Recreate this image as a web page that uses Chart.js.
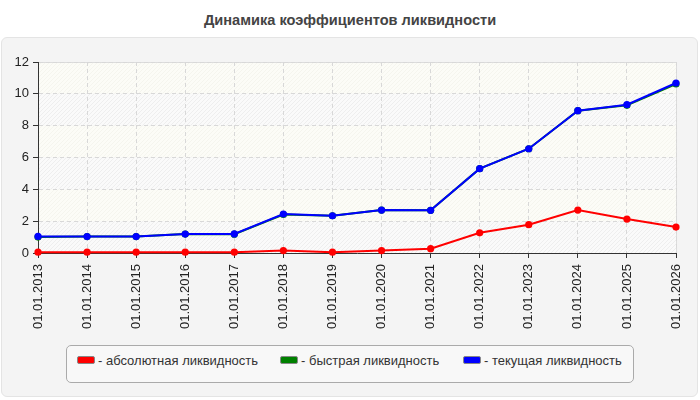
<!DOCTYPE html>
<html>
<head>
<meta charset="utf-8">
<script src="https://cdn.jsdelivr.net/npm/chart.js@4.4.1/dist/chart.umd.min.js"></script>
<style>
  body { margin: 0; background: #fff; font-family: Arial, "Liberation Sans", sans-serif; }
  .wrap { position: relative; width: 700px; height: 400px; overflow: hidden; }
  .title { position: absolute; left: 0; top: 12px; width: 700px; text-align: center;
    font-size: 14.6px; font-weight: bold; color: #444; }
  .panel { position: absolute; left: 1px; top: 37px; width: 695px; height: 358px;
    background: #f4f4f4; border: 1px solid #e4e4e4; border-radius: 6px; }
  canvas { position: absolute; left: 0; top: 0; }
  .legend { position: absolute; left: 66px; top: 345px; width: 566px; height: 36px;
    background: #f8f8f8; border: 1px solid #aaa; border-radius: 5px; }
  .item { position: absolute; top: 7px; font-size: 13px; color: #333; white-space: nowrap; }
  .sw { display: inline-block; width: 16px; height: 6px; border: 1px solid #888;
    border-radius: 2px; vertical-align: middle; margin-right: 3px; position: relative; top: -2px; }
</style>
</head>
<body>
<div class="wrap">
  <div class="title">Динамика коэффициентов ликвидности</div>
  <div class="panel"></div>
  <canvas id="myChart" width="700" height="400"></canvas>
  <div class="legend" id="legend"></div>
</div>
<script>
const labels = ["01.01.2013", "01.01.2014", "01.01.2015", "01.01.2016", "01.01.2017",
  "01.01.2018", "01.01.2019", "01.01.2020", "01.01.2021", "01.01.2022",
  "01.01.2023", "01.01.2024", "01.01.2025", "01.01.2026"];
const absLiq = [0.05, 0.05, 0.05, 0.05, 0.05, 0.15, 0.05, 0.15, 0.27, 1.27, 1.78, 2.7, 2.13, 1.63];
const quickLiq = [1.0, 1.03, 1.03, 1.19, 1.18, 2.42, 2.34, 2.7, 2.68, 5.3, 6.55, 8.94, 9.28, 10.62];
const curLiq = [1.04, 1.03, 1.03, 1.19, 1.2, 2.45, 2.34, 2.7, 2.68, 5.3, 6.55, 8.94, 9.32, 10.68];
const yTicks = [0, 2, 4, 6, 8, 10, 12];

const names = ["абсолютная ликвидность", "быстрая ликвидность", "текущая ликвидность"];
const colors = ["#ff0000", "#008000", "#0000ff"];

// штриховка фона
function hatch(base, line) {
  const c = document.createElement("canvas");
  c.width = 4; c.height = 4;
  const g = c.getContext("2d");
  g.fillStyle = base; g.fillRect(0, 0, 4, 4);
  g.strokeStyle = line; g.lineWidth = 1;
  g.beginPath(); g.moveTo(0, 4); g.lineTo(4, 0); g.moveTo(-1, 1); g.lineTo(1, -1); g.moveTo(3, 5); g.lineTo(5, 3); g.stroke();
  return c;
}

const bgPlugin = {
  id: "plotBg",
  beforeDraw(chart) {
    const { ctx, chartArea: a, scales: { y } } = chart;
    const pIvory = ctx.createPattern(hatch("#fcfcf7", "#f5f5ee"), "repeat");
    const pGray = ctx.createPattern(hatch("#fafafa", "#eeeeee"), "repeat");
    ctx.save();
    for (let i = 0; i < yTicks.length - 1; i++) {
      const top = y.getPixelForValue(yTicks[yTicks.length - 1 - i]);
      const bot = y.getPixelForValue(yTicks[yTicks.length - 2 - i]);
      ctx.fillStyle = i % 2 === 0 ? pIvory : pGray;
      ctx.fillRect(a.left, top, a.right - a.left, bot - top);
    }
    ctx.strokeStyle = "#dcdcdc";
    ctx.lineWidth = 1;
    ctx.strokeRect(a.left + 0.5, a.top + 0.5, a.right - a.left, a.bottom - a.top);
    ctx.restore();
  }
};

const series = [absLiq, quickLiq, curLiq];
const datasets = series.map((d, i) => ({
  label: names[i],
  data: d,
  borderColor: colors[i],
  backgroundColor: colors[i],
  pointBackgroundColor: colors[i],
  pointBorderWidth: 0,
  pointRadius: 3.6,
  borderWidth: 2,
  tension: 0,
  clip: false,
  order: 3 - i
}));

let ctx = document.getElementById("myChart").getContext("2d");
let myChart = new Chart(ctx, {
  type: "line",
  data: { labels: labels, datasets: datasets },
  options: {
    responsive: false,
    animation: false,
    devicePixelRatio: 1,
    layout: { padding: { left: 0, top: 62, right: 24, bottom: 0 } },
    plugins: { legend: { display: false }, tooltip: { enabled: false } },
    scales: {
      x: {
        offset: false,
        grid: { color: "#d8d8d8", tickColor: "#333", tickLength: 5, drawTicks: true },
        border: { color: "#333", width: 1, dash: [4, 3] },
        ticks: { color: "#222", font: { size: 13, family: "Arial, 'Liberation Sans'" },
          maxRotation: 90, minRotation: 90, padding: 6, autoSkip: false },
        afterFit(s) { s.height = 147; }
      },
      y: {
        min: 0, max: 12,
        grid: { color: "#d8d8d8", tickColor: "#333", tickLength: 5 },
        border: { color: "#333", width: 1, dash: [4, 3] },
        ticks: { stepSize: 2, color: "#222", padding: 4,
          font: { size: 13, family: "Arial, 'Liberation Sans'" } },
        afterFit(s) { s.width = 38; }
      }
    }
  },
  plugins: [bgPlugin]
});

// легенда
const lefts = [10, 213, 396];
const leg = document.getElementById("legend");
names.forEach((n, i) => {
  const el = document.createElement("div");
  el.className = "item";
  el.style.left = lefts[i] + "px";
  el.innerHTML = '<span class="sw" style="background:' + colors[i] + '"></span>- ' + n;
  leg.appendChild(el);
});
</script>
</body>
</html>
